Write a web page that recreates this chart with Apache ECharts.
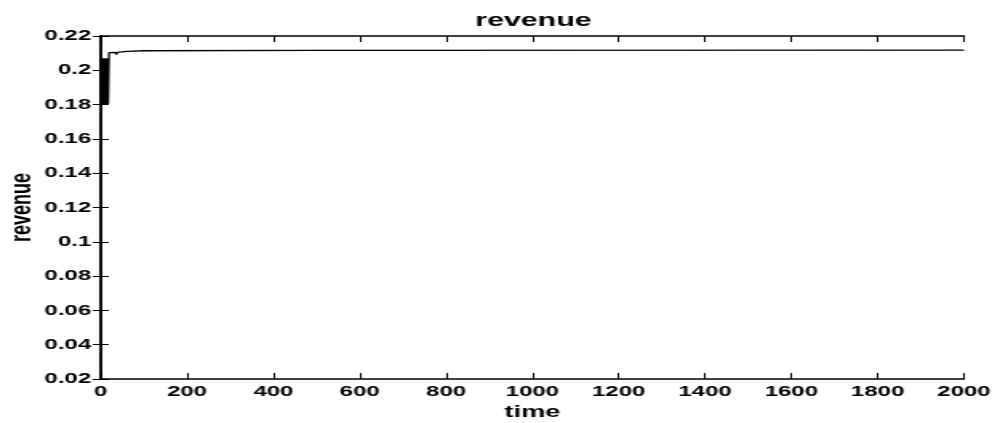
<!DOCTYPE html>
<html>
<head>
  <meta charset="utf-8">
  <style>
    html, body { margin: 0; padding: 0; width: 100%; height: 100%; overflow: hidden; background: #fff; }
    /* the source figure is stretched sideways, so draw narrow and widen it */
    #container { width: 622px; height: 423px; transform: scaleX(1.6); transform-origin: 0 0; }
  </style>
  <script src="https://cdn.jsdelivr.net/npm/echarts@6/dist/echarts.min.js"></script>
</head>
<body>
  <div id="container"></div>
  <script>
    var chart = echarts.init(document.getElementById('container'), null, { renderer: 'canvas' });

    // readings
    var time = [0, 1, 2, 3, 4, 5, 6, 7, 8, 9, 10, 11, 12, 13, 14, 15, 16, 17, 18, 19, 26, 34, 36, 38, 60, 100, 500, 2000];
    var revenue = [0.2065, 0.181, 0.207, 0.180, 0.2068, 0.1805, 0.207, 0.180, 0.2066, 0.1802, 0.207, 0.1798, 0.2065, 0.180,
      0.2068, 0.1803, 0.207, 0.1805, 0.1800, 0.2103, 0.2105, 0.2104, 0.2092, 0.2105, 0.2110, 0.2114, 0.2116, 0.2118];
    var xTicks = { min: 0, max: 2000, step: 200 };
    var yTicks = { min: 0.02, max: 0.22, step: 0.02 };

    var points = time.map(function (t, i) { return [t, revenue[i]]; });
    var font = 'Liberation Sans, Arial, sans-serif';
    var axisLine = { show: true, lineStyle: { color: '#000', width: 1.5 } };

    var option = {
      animation: false,
      backgroundColor: '#fff',
      title: {
        text: 'revenue',
        left: 292,
        top: 6,
        textStyle: { fontFamily: font, fontSize: 19, fontWeight: 'bold', color: '#000' }
      },
      grid: { left: 63, right: 19.5, top: 36, bottom: 44, containLabel: false, outerBoundsMode: 'none' },
      xAxis: [{
        type: 'value',
        min: xTicks.min, max: xTicks.max, interval: xTicks.step,
        axisLine: axisLine,
        axisTick: { show: true, inside: true, length: 6, lineStyle: { color: '#000', width: 1 } },
        axisLabel: {
          margin: 5, color: '#000', fontFamily: font, fontSize: 15, fontWeight: 'bold',
          formatter: function (v) { return String(v); }
        },
        splitLine: { show: false },
        name: 'time',
        nameLocation: 'middle',
        nameGap: 22,
        nameTextStyle: { color: '#000', fontFamily: font, fontSize: 17, fontWeight: 'bold' }
      }, {
        type: 'value',
        position: 'top',
        min: xTicks.min, max: xTicks.max, interval: xTicks.step,
        axisLine: axisLine,
        axisTick: { show: true, inside: true, length: 6, lineStyle: { color: '#000', width: 1 } },
        axisLabel: { show: false },
        splitLine: { show: false }
      }],
      yAxis: [{
        type: 'value',
        min: yTicks.min, max: yTicks.max, interval: yTicks.step,
        axisLine: axisLine,
        axisTick: { show: true, inside: true, length: 5, lineStyle: { color: '#000', width: 1 } },
        axisLabel: {
          margin: 6, color: '#000', fontFamily: font, fontSize: 15, fontWeight: 'bold',
          formatter: function (v) { return String(+v.toFixed(2)); }
        },
        splitLine: { show: false },
        name: 'revenue',
        nameLocation: 'middle',
        nameRotate: 90,
        nameGap: 40,
        nameMoveOverlap: false,
        nameTextStyle: { color: '#000', fontFamily: 'Liberation Sans Narrow, Arial Narrow, sans-serif', fontSize: 18, fontWeight: 'bold' }
      }, {
        type: 'value',
        position: 'right',
        min: yTicks.min, max: yTicks.max, interval: yTicks.step,
        axisLine: axisLine,
        axisTick: { show: true, inside: true, length: 5, lineStyle: { color: '#000', width: 1 } },
        axisLabel: { show: false },
        splitLine: { show: false }
      }],
      series: [{
        name: 'revenue',
        type: 'line',
        data: points,
        showSymbol: false,
        lineStyle: { color: '#000', width: 1.3 }
      }]
    };

    chart.setOption(option);
    window.addEventListener('resize', chart.resize);
  </script>
</body>
</html>
